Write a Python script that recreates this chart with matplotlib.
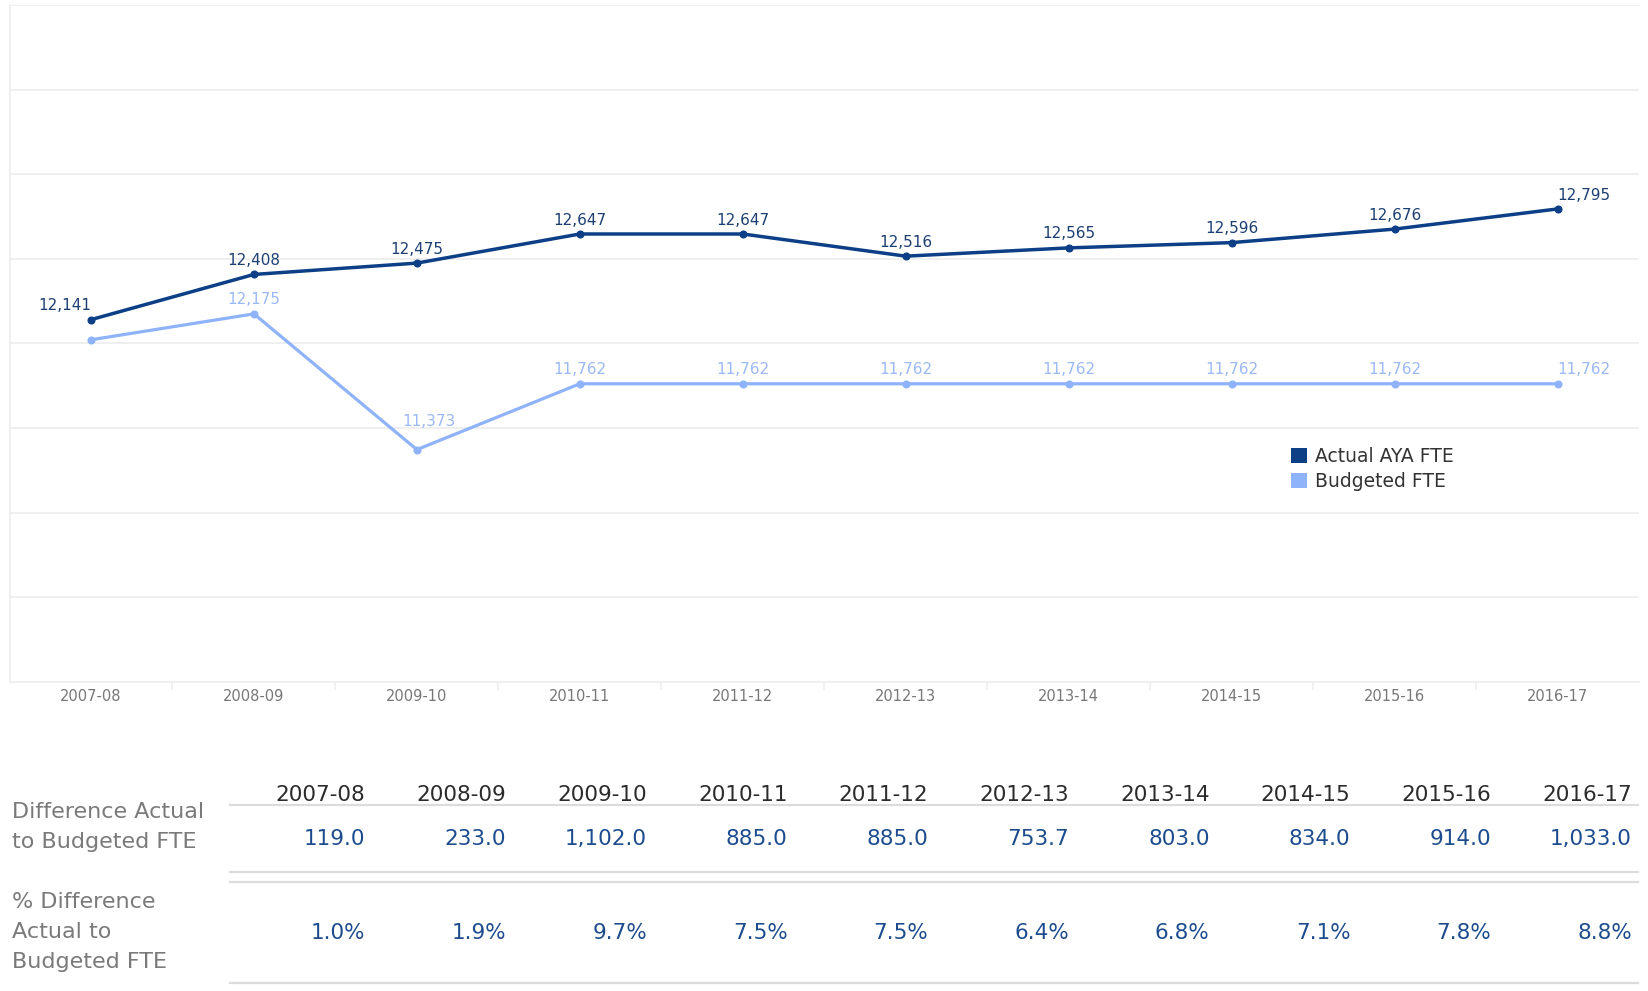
import matplotlib.pyplot as plt
from matplotlib.patches import Patch
from matplotlib.lines import Line2D

W, H = 1649, 991

years = ['2007-08', '2008-09', '2009-10', '2010-11', '2011-12',
         '2012-13', '2013-14', '2014-15', '2015-16', '2016-17']
actual = [12141, 12408, 12475, 12647, 12647, 12516, 12565, 12596, 12676, 12795]
budgeted = [12022, 12175, 11373, 11762, 11762, 11762, 11762, 11762, 11762, 11762]
diff_fte = [119.0, 233.0, 1102.0, 885.0, 885.0, 753.7, 803.0, 834.0, 914.0, 1033.0]
diff_pct = [1.0, 1.9, 9.7, 7.5, 7.5, 6.4, 6.8, 7.1, 7.8, 8.8]

dark = '#0c3f86'
light = '#8fb3fa'
grid_c = '#efefef'

plt.rcParams['font.family'] = 'DejaVu Sans'


def fx(px):
    return px / W


def fy(py):
    return 1 - py / H


fig = plt.figure(figsize=(W / 100, H / 100), dpi=100)
ax = fig.add_axes([fx(9.5), fy(682), fx(1639) - fx(9.5), fy(5) - fy(682)])

x = list(range(len(years)))
ax.plot(x, budgeted, color=light, linewidth=2.3, marker='o', markersize=4.8, zorder=3)
ax.plot(x, actual, color=dark, linewidth=2.5, marker='o', markersize=4.8, zorder=4)

ax.set_xlim(-0.5, len(years) - 0.5)
ax.set_ylim(10000, 14000)
ax.set_yticks(range(10000, 14001, 500))
ax.yaxis.grid(True, color=grid_c, linewidth=1.4)
ax.set_axisbelow(True)
ax.tick_params(axis='y', left=False, labelleft=False)

# category labels centred in bands, tick marks on band edges
ax.set_xticks([i + 0.5 for i in x[:-1]])
ax.set_xticks(x, minor=True)
ax.set_xticklabels(years, minor=True, fontsize=10.5, color='#777777')
ax.tick_params(axis='x', which='major', labelbottom=False, length=6,
               color=grid_c, width=1.2)
ax.tick_params(axis='x', which='minor', length=0, pad=5)

for side in ['top', 'right']:
    ax.spines[side].set_visible(False)
ax.spines['left'].set_color(grid_c)
ax.spines['left'].set_linewidth(1.4)
ax.spines['bottom'].set_color(grid_c)
ax.spines['bottom'].set_linewidth(1.4)

# data labels
last = len(years) - 1
for i, v in enumerate(actual):
    ha = 'center'
    if i == 0:
        ha = 'right'
    elif i == last:
        ha = 'left'
    ax.annotate(f'{v:,}', (i, v), xytext=(0, 10), textcoords='offset points',
                ha=ha, va='center', fontsize=11, color='#1c3f72')
for i, v in enumerate(budgeted):
    if i == 0:
        continue
    ha = 'center'
    off = (0, 10)
    if i == last:
        ha = 'left'
    if i == 2:
        off = (9, 20)
    ax.annotate(f'{v:,}', (i, v), xytext=off, textcoords='offset points',
                ha=ha, va='center', fontsize=11, color='#9bb9f5')

handles = [Patch(facecolor=dark, edgecolor='none', label='Actual AYA FTE'),
           Patch(facecolor=light, edgecolor='none', label='Budgeted FTE')]
fig.legend(handles=handles, loc='upper left', bbox_to_anchor=(fx(1291), fy(447)),
           frameon=False, fontsize=13.5, handlelength=0.85, handleheight=0.85,
           handletextpad=0.45, labelspacing=0.3, borderpad=0, borderaxespad=0,
           labelcolor='#333333')

# table below the chart
col_right = [365.5 + k * 140.7 for k in range(len(years))]
val_color = '#1d4c8e'
for k, yr in enumerate(years):
    fig.text(fx(col_right[k]), fy(795), yr, ha='right', va='center',
             fontsize=15.5, color='#2b2b2b')
    fig.text(fx(col_right[k]), fy(839), f'{diff_fte[k]:,.1f}', ha='right', va='center',
             fontsize=15.5, color=val_color)
    fig.text(fx(col_right[k]), fy(933), f'{diff_pct[k]:.1f}%', ha='right', va='center',
             fontsize=15.5, color=val_color)

for ly in [805, 872, 882, 983]:
    fig.add_artist(Line2D([fx(230), fx(1638)], [fy(ly), fy(ly)], color='#dcdcdc',
                          linewidth=1.6))

fig.text(fx(12), fy(827), 'Difference Actual\nto Budgeted FTE', ha='left', va='center',
         fontsize=16, color='#7a7a7a', linespacing=1.58)
fig.text(fx(12), fy(932), '% Difference\nActual to\nBudgeted FTE', ha='left', va='center',
         fontsize=16, color='#7a7a7a', linespacing=1.6)

fig.savefig('out.png', dpi=100)
